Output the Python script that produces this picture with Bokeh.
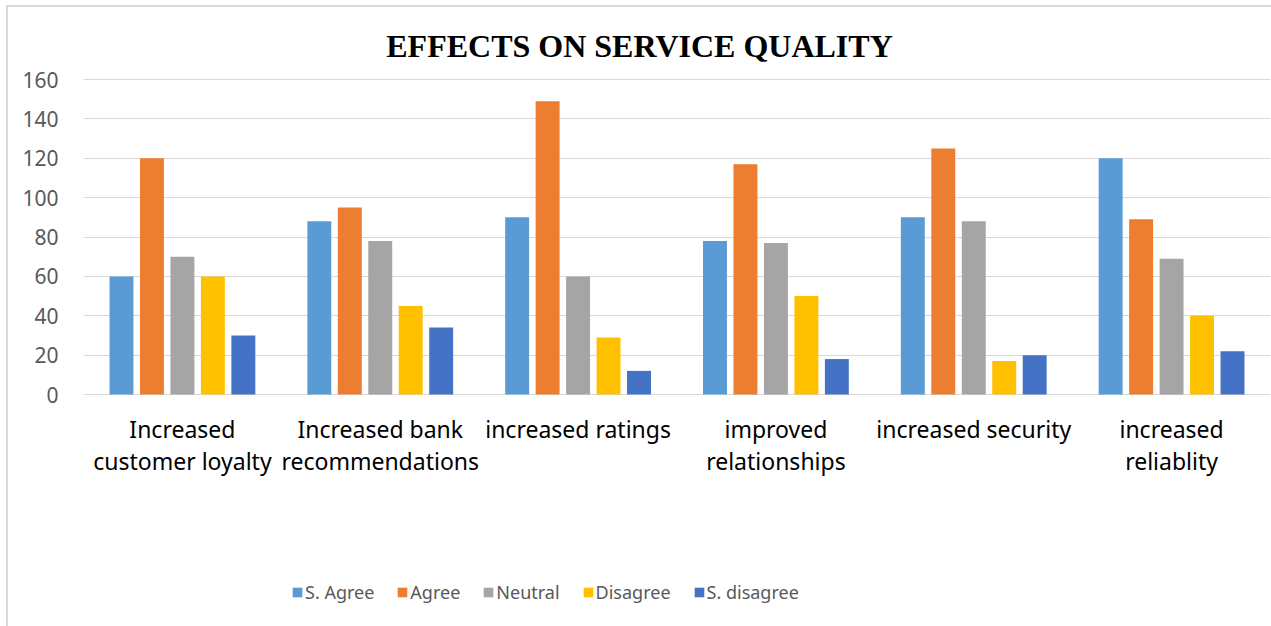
from bokeh.plotting import figure
from bokeh.models import FactorRange, Range1d, Legend, LegendItem, ColumnDataSource, Label
from bokeh.transform import dodge
from bokeh.embed import file_html
from bokeh.resources import INLINE
from bokeh.core.properties import value

title_text = "EFFECTS ON SERVICE QUALITY"
categories = ["Increased\ncustomer loyalty", "Increased bank\nrecommendations", "increased ratings",
              "improved\nrelationships", "increased security", "increased\nreliablity"]
series = ["S. Agree", "Agree", "Neutral", "Disagree", "S. disagree"]
s_agree = [60, 88, 90, 78, 90, 120]
agree = [120, 95, 149, 117, 125, 89]
neutral = [70, 78, 60, 77, 88, 69]
disagree = [60, 45, 29, 50, 17, 40]
s_disagree = [30, 34, 12, 18, 20, 22]
colors = ["#5B9BD5", "#ED7D31", "#A5A5A5", "#FFC000", "#4472C4"]
y_ticks = [0, 20, 40, 60, 80, 100, 120, 140, 160]

source = ColumnDataSource(dict(cat=categories, s_agree=s_agree, agree=agree, neutral=neutral,
                               disagree=disagree, s_disagree=s_disagree))
keys = ["s_agree", "agree", "neutral", "disagree", "s_disagree"]

# frame spans full height; value axis 0..160 maps to y=394..79 px
px_per_unit = (394 - 79) / 160.0
y_top = 160 + 79 / px_per_unit
y_bottom = -(626 - 394) / px_per_unit

p = figure(width=1271, height=626, output_backend="svg", toolbar_location=None,
           x_range=FactorRange(factors=categories, range_padding=0),
           y_range=Range1d(y_bottom, y_top))
p.min_border_left = 83
p.min_border_right = 1
p.min_border_top = 0
p.min_border_bottom = 0
p.outline_line_color = None
p.background_fill_color = None
p.border_fill_color = None
p.styles = {"box-shadow": "inset 6px 5px 0 0 white, inset 8px 7px 0 0 #D9D9D9",
            "background-color": "white"}
p.xaxis.visible = False

step = 0.154
renderers = []
for i, (k, c) in enumerate(zip(keys, colors)):
    r = p.vbar(x=dodge("cat", (i - 2) * step, range=p.x_range), top=k, width=0.121,
               source=source, fill_color=c, line_color=None)
    renderers.append(r)

p.xgrid.grid_line_color = None
p.ygrid.grid_line_color = "#D9D9D9"
p.ygrid.grid_line_width = 1

p.yaxis.ticker = y_ticks
p.yaxis.axis_line_color = None
p.yaxis.major_tick_line_color = None
p.yaxis.minor_tick_line_color = None
p.yaxis.major_label_text_font = "Noto Sans"
p.yaxis.major_label_text_font_size = "21px"
p.yaxis.major_label_text_color = "#595959"
p.yaxis.major_label_standoff = 19

# category labels below the axis
p.text(x=categories, y=[0] * len(categories), text=categories,
       text_font=value("Noto Sans"), text_font_size="23px", text_color="black",
       text_align="center", text_baseline="top", text_line_height=1.02, y_offset=18)

# title
p.add_layout(Label(x=639 - 83, y=626 - 45, x_units="screen", y_units="screen", text=title_text,
                   text_font="Liberation Serif", text_font_size="32px", text_font_style="bold",
                   text_color="black", text_align="center", text_baseline="middle"))

legend = Legend(items=[LegendItem(label=s, renderers=[r]) for s, r in zip(series, renderers)],
                orientation="horizontal", location=(208, 22))
legend.label_text_font = "Noto Sans"
legend.label_text_font_size = "18px"
legend.label_text_color = "#595959"
legend.glyph_width = 12
legend.glyph_height = 12
legend.label_standoff = 2
legend.spacing = 22
legend.padding = 0
legend.margin = 0
legend.border_line_color = None
legend.background_fill_alpha = 0
p.add_layout(legend, "center")

open("out.html", "w").write(file_html(p, INLINE))
